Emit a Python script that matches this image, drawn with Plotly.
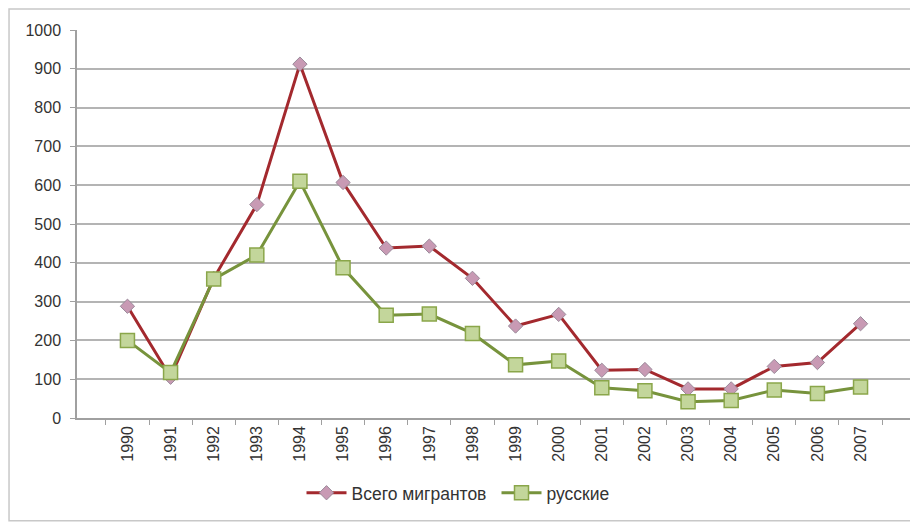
import plotly.graph_objects as go

years = [str(y) for y in range(1990, 2008)]
total_migrants = [288, 105, 360, 550, 912, 607, 438, 443, 360, 237, 267, 123, 125, 75, 75, 133, 143, 243]
russians = [200, 117, 358, 420, 610, 387, 265, 268, 218, 137, 147, 78, 70, 42, 45, 72, 63, 80]

fig = go.Figure()
fig.add_trace(go.Scatter(
    x=years, y=total_migrants, name='Всего мигрантов', mode='lines+markers',
    line=dict(color='#A3292E', width=3),
    marker=dict(symbol='diamond', size=11, color='#C89AB4', line=dict(color='#9A8A9A', width=1))
))
fig.add_trace(go.Scatter(
    x=years, y=russians, name='русские', mode='lines+markers',
    line=dict(color='#77933C', width=3),
    marker=dict(symbol='square', size=14, color='#C3D69B', line=dict(color='#8AA64A', width=1.5))
))

# page body has an 8px margin, so the figure is sized to fit the window
fig.update_layout(
    width=910, height=515,
    margin=dict(l=69, r=7, t=22, b=105),
    paper_bgcolor='white', plot_bgcolor='white',
    font=dict(family='Liberation Sans, Arial', size=16, color='#333'),
    showlegend=True,
    legend=dict(orientation='h', x=0.503, xanchor='center', y=-0.193, yanchor='middle',
                font=dict(size=17.5, color='#333'), itemwidth=40, entrywidth=140),
)
fig.update_xaxes(
    type='category', tickangle=-90, showgrid=False, automargin=False,
    showline=True, linecolor='#A0A0A0', linewidth=1.5,
    ticks='outside', ticklen=5, tickcolor='#A0A0A0', tickson='boundaries',
)
fig.update_yaxes(
    range=[0, 1000], dtick=100, showgrid=True, gridcolor='#B4B4B4', gridwidth=1.5,
    showline=True, linecolor='#A0A0A0', linewidth=1.5, automargin=False,
    ticks='outside', ticklen=5, tickcolor='#A0A0A0', zeroline=False,
    ticklabelstandoff=6,
)
# outer chart frame
fig.add_shape(type='rect', xref='paper', yref='paper',
              x0=-0.0815, x1=1.03, y0=-0.265, y1=1.054,
              line=dict(color='#C8C8C8', width=1.5), layer='below')

fig.write_html("out.html")
